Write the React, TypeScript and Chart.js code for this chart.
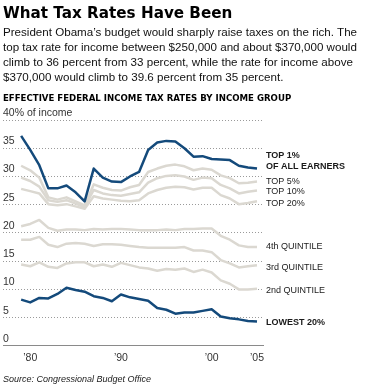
import React, { useEffect, useRef } from "react";
import { Chart, registerables } from "chart.js";

Chart.register(...registerables);

const YEARS = [1979, 1980, 1981, 1982, 1983, 1984, 1985, 1986, 1987, 1988, 1989, 1990, 1991, 1992, 1993, 1994, 1995, 1996, 1997, 1998, 1999, 2000, 2001, 2002, 2003, 2004, 2005];

const TOP1 = [37.2, 34.7, 32.0, 27.9, 27.9, 28.4, 27.2, 25.6, 31.4, 29.8, 29.1, 29.0, 30.0, 30.8, 34.7, 36.0, 36.3, 36.2, 35.0, 33.5, 33.6, 33.1, 33.0, 32.9, 31.9, 31.6, 31.4];
const LOWEST20 = [8.2, 7.7, 8.5, 8.4, 9.2, 10.3, 9.9, 9.6, 8.8, 8.5, 7.9, 9.1, 8.6, 8.3, 8.0, 6.7, 6.4, 5.7, 5.9, 5.9, 6.2, 6.5, 5.2, 4.9, 4.7, 4.4, 4.3];
const TOP5 = [31.9, 31.1, 29.8, 26.3, 25.9, 26.3, 25.6, 24.9, 28.6, 28.0, 27.6, 27.5, 28.1, 28.5, 30.8, 31.4, 31.9, 32.1, 31.8, 31.1, 31.4, 31.2, 30.2, 29.7, 28.8, 28.9, 29.1];
const TOP10 = [29.8, 29.2, 28.2, 25.8, 25.5, 25.8, 25.2, 24.6, 27.6, 27.0, 26.7, 26.6, 26.9, 27.2, 28.9, 29.7, 30.1, 30.2, 30.0, 29.4, 29.8, 29.7, 28.5, 27.9, 27.0, 27.3, 27.5];
const TOP20 = [27.8, 27.4, 27.0, 25.1, 24.9, 25.1, 24.7, 24.3, 26.5, 26.1, 25.9, 25.7, 25.6, 25.8, 27.0, 27.6, 28.0, 28.2, 28.1, 27.7, 28.0, 28.0, 26.7, 26.1, 25.1, 25.3, 25.6];
const Q4 = [21.2, 21.6, 22.3, 20.9, 20.4, 20.6, 20.6, 20.5, 20.7, 20.6, 20.7, 20.7, 20.6, 20.5, 20.5, 20.5, 20.6, 20.5, 20.7, 20.7, 20.8, 20.8, 19.5, 18.8, 17.8, 17.5, 17.5];
const Q3 = [18.8, 18.8, 19.3, 17.9, 17.5, 18.1, 18.2, 18.1, 17.7, 18.0, 18.0, 17.9, 17.7, 17.5, 17.4, 17.4, 17.4, 17.4, 17.5, 16.9, 16.9, 16.6, 15.2, 14.6, 13.9, 14.1, 14.3];
const Q2 = [14.4, 14.1, 14.8, 14.0, 13.8, 14.6, 14.8, 14.8, 14.1, 14.4, 14.0, 14.7, 14.3, 13.9, 13.7, 13.3, 13.6, 13.5, 13.7, 13.1, 13.5, 13.0, 11.6, 11.0, 10.0, 10.0, 10.1];

const SERIES_LABELS = [["TOP 1%", "OF ALL EARNERS"], ["LOWEST 20%"], ["TOP 5%"], ["TOP 10%"], ["TOP 20%"], ["4th QUINTILE"], ["3rd QUINTILE"], ["2nd QUINTILE"]];
const SERIES_DATA = [TOP1, LOWEST20, TOP5, TOP10, TOP20, Q4, Q3, Q2];
const SERIES_BOLD = [true, true, false, false, false, false, false, false];
const SERIES_BLUE = [true, true, false, false, false, false, false, false];
const LABEL_NUDGE = [-13.5, 0.5, 0, 1, 2, -0.5, 2, 2];

const X_TICKS = [1980, 1990, 2000, 2005];
const Y_TOP_LABEL = "40% of income";

const BLUE = "#144a7b";
const GRAY = "#dbd8d1";
const SANS = '"Liberation Sans", Arial, Helvetica, sans-serif';

const PARAGRAPH = [
  "President Obama\u2019s budget would sharply raise taxes on the rich. The",
  "top tax rate for income between $250,000 and about $370,000 would",
  "climb to 36 percent from 33 percent, while the rate for income above",
  "$370,000 would climb to 39.6 percent from 35 percent.",
];

const endLabels = {
  id: "endLabels",
  afterDatasetsDraw(chart: any) {
    const { ctx, chartArea, scales } = chart;
    const y = scales.y;
    ctx.save();
    ctx.textAlign = "left";
    ctx.textBaseline = "middle";
    ctx.fillStyle = "#1a1a1a";
    chart.data.datasets.forEach((ds: any, i: number) => {
      const last = ds.data[ds.data.length - 1];
      const py = y.getPixelForValue(typeof last === "object" ? last.y : last);
      ctx.font = `${SERIES_BOLD[i] ? "bold " : ""}9px ${SANS}`;
      SERIES_LABELS[i].forEach((t: string, k: number) => {
        ctx.fillText(t, chartArea.right + 3, py + LABEL_NUDGE[i] + k * 11.7);
      });
    });
    ctx.restore();
  },
};

export default function App() {
  const ref = useRef<HTMLCanvasElement | null>(null);

  useEffect(() => {
    document.body.style.margin = "0";
    const canvas = ref.current;
    if (!canvas) return;
    const datasets = SERIES_DATA.map((arr, i) => ({
      label: SERIES_LABELS[i].join(" "),
      data: arr.map((v, j) => ({ x: YEARS[j], y: v })),
      borderColor: SERIES_BLUE[i] ? BLUE : GRAY,
      borderWidth: 2.5,
      pointRadius: 0,
      tension: 0,
      fill: false,
      borderJoinStyle: "round" as const,
      borderCapStyle: "butt" as const,
    }));
    const chart = new Chart(canvas, {
      type: "line",
      data: { datasets },
      plugins: [endLabels],
      options: {
        animation: false,
        responsive: false,
        maintainAspectRatio: false,
        layout: { padding: { top: 120, left: 3, right: 103, bottom: 19.5 } },
        plugins: { legend: { display: false }, tooltip: { enabled: false }, title: { display: false } },
        scales: {
          x: {
            type: "linear",
            min: 1977.0,
            max: 2005.66,
            afterBuildTicks: (scale: any) => {
              scale.ticks = X_TICKS.map((v) => ({ value: v }));
            },
            grid: { display: false, drawTicks: false },
            border: { display: true, color: "#8a8a8a", width: 1 },
            ticks: {
              padding: 6,
              color: "#333",
              font: { family: SANS, size: 10.5 },
              maxRotation: 0,
              autoSkip: false,
              callback: (v: any) => "\u2019" + String(v).slice(2),
            },
          },
          y: {
            min: 0,
            max: 40,
            afterFit: (scale: any) => {
              scale.width = 0;
            },
            grid: {
              drawTicks: false,
              color: (ctx: any) => (ctx.tick && ctx.tick.value === 0 ? "rgba(0,0,0,0)" : "#9a9a9a"),
              lineWidth: 1,
            },
            border: { display: false, dash: [1, 2] },
            ticks: {
              stepSize: 5,
              mirror: true,
              padding: 0,
              labelOffset: -7,
              color: "#333",
              font: { family: SANS, size: 10.5 },
              callback: (v: any) => (v === 40 ? Y_TOP_LABEL : String(v)),
            },
          },
        },
      } as any,
    });
    return () => chart.destroy();
  }, []);

  return (
    <div style={{ position: "relative", width: 366, height: 390, overflow: "hidden", background: "#fff" }}>
      <canvas ref={ref} width={366} height={390} style={{ position: "absolute", left: 0, top: 0, width: 366, height: 390 }} />
      <div style={{ position: "absolute", left: 3, top: 0.5, font: 'bold 15.2px "DejaVu Sans", sans-serif', lineHeight: "24px", color: "#000", whiteSpace: "nowrap" }}>
        What Tax Rates Have Been
      </div>
      {PARAGRAPH.map((line, i) => (
        <div key={i} style={{ position: "absolute", left: 3, top: 24.3 + i * 15, font: `11.6px ${SANS}`, lineHeight: "15px", color: "#111", whiteSpace: "nowrap" }}>
          {line}
        </div>
      ))}
      <div style={{ position: "absolute", left: 3, top: 92.8, font: 'bold 8.6px "DejaVu Sans", sans-serif', lineHeight: "10px", color: "#000", whiteSpace: "nowrap" }}>
        EFFECTIVE FEDERAL INCOME TAX RATES BY INCOME GROUP
      </div>
      <div style={{ position: "absolute", left: 3, top: 374, font: `italic 9px ${SANS}`, lineHeight: "11px", color: "#222", whiteSpace: "nowrap" }}>
        Source: Congressional Budget Office
      </div>
    </div>
  );
}
